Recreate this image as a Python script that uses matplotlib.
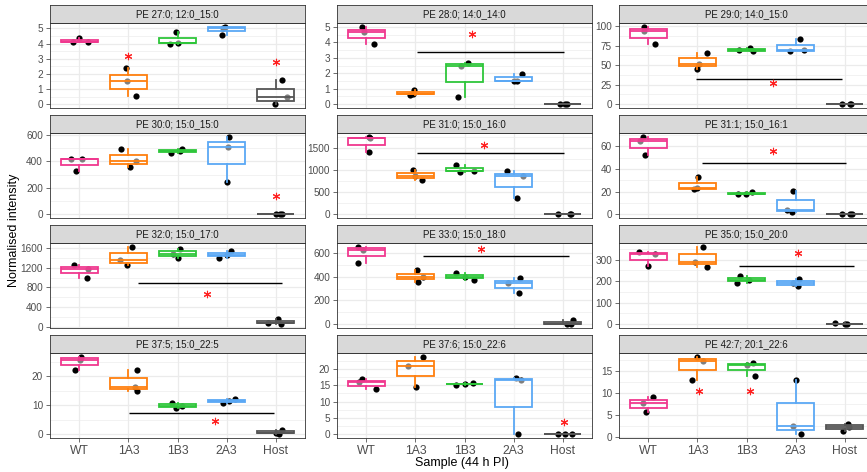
import numpy as np
import matplotlib.pyplot as plt

plt.rcParams['font.family'] = ['Liberation Sans', 'DejaVu Sans']

# Data
groups = ['WT', '1A3', '1B3', '2A3', 'Host']
colours = ['#F0388F', '#FF7F0E', '#2EC63A', '#5AA8F5', '#555555']

titles = ['PE 27:0; 12:0_15:0', 'PE 28:0; 14:0_14:0', 'PE 29:0; 14:0_15:0',
          'PE 30:0; 15:0_15:0', 'PE 31:0; 15:0_16:0', 'PE 31:1; 15:0_16:1',
          'PE 32:0; 15:0_17:0', 'PE 33:0; 15:0_18:0', 'PE 35:0; 15:0_20:0',
          'PE 37:5; 15:0_22:5', 'PE 37:6; 15:0_22:6', 'PE 42:7; 20:1_22:6']

# three replicates per sample, order WT, 1A3, 1B3, 2A3, Host
pe27_0 = [[4.1, 4.35, 4.1], [2.4, 1.5, 0.53], [3.98, 4.04, 4.74], [4.55, 5.05, 5.1], [0.0, 0.47, 1.57]]
pe28_0 = [[5.0, 4.64, 3.87], [0.62, 0.66, 0.92], [0.45, 2.45, 2.68], [1.49, 1.5, 1.96], [0, 0, 0]]
pe29_0 = [[99, 93.5, 76.8], [45.6, 52, 65.4], [69.2, 71.7, 67.5], [67.5, 69.6, 83], [0, 0, 0]]
pe30_0 = [[416, 330, 421], [496, 358, 401], [466, 480, 497], [247, 511, 587], [0, 2, 0]]
pe31_0 = [[1412, 1720, 1750], [1010, 773, 870], [1114, 958, 988], [980, 357, 855], [0, 0, 0]]
pe31_1 = [[68.4, 64.3, 52], [32.7, 22.2, 22.8], [18.1, 17.5, 19.6], [3.5, 1.5, 20.8], [0, 0, 0]]
pe32_0 = [[1248, 1002, 1182], [1248, 1368, 1627], [1408, 1490, 1580], [1408, 1462, 1540], [86, 153, 53]]
pe33_0 = [[651, 627, 516], [459, 359, 394], [427, 400, 373], [346, 389, 259], [0, 35, 5]]
pe35_0 = [[336, 326, 270], [291, 359, 265], [191, 223, 207], [175, 210, 190], [3, 0, 0]]
pe37_5 = [[22.3, 25.6, 26.7], [22.3, 15, 16.2], [10.7, 9.0, 9.8], [10.9, 12.3, 11.5], [0, 1.6, 0.5]]
pe37_6 = [[16.8, 13.7, 15.9], [21, 14.4, 23.7], [15.2, 15.6, 15.4], [17.3, 16.5, 0], [0, 0.1, 0]]
pe42_7 = [[9.2, 5.6, 7.8], [18.3, 13, 17.4], [16.8, 14, 16.5], [13.1, 2.4, 0.6], [1.4, 3.0, 2.2]]
values = [pe27_0, pe28_0, pe29_0, pe30_0, pe31_0, pe31_1,
          pe32_0, pe33_0, pe35_0, pe37_5, pe37_6, pe42_7]

# significance bar (x from, x to, y) and asterisks (x, y)
sig_lines = [None, (2.04, 5.03, 3.4), (1.97, 4.95, 32.5),
             None, (2.04, 5.03, 1390), (2.09, 5.03, 45.3),
             (2.19, 5.14, 883), (2.16, 5.14, 570), (2.85, 5.2, 270),
             (2.01, 4.96, 7.2), None, None]
stars = [[(2, 3.2), (5, 2.8)], [(3.16, 4.57)], [(3.54, 26.6)],
         [(5.0, 136)], [(3.4, 1560)], [(3.55, 55.8)],
         [(3.6, 657)], [(3.34, 635)], [(4.05, 330)],
         [(3.77, 4.6)], [(5.02, 3.8)], [(2.04, 10.5), (3.07, 10.5)]]

yticks = [[0, 1, 2, 3, 4, 5], [0, 1, 2, 3, 4, 5], [0, 25, 50, 75, 100],
          [0, 200, 400, 600], [0, 500, 1000, 1500], [0, 20, 40, 60],
          [0, 400, 800, 1200, 1600], [0, 200, 400, 600], [0, 100, 200, 300],
          [0, 10, 20], [0, 5, 10, 15, 20], [0, 5, 10, 15]]

# horizontal jitter of the points
jitter = [
    [[-0.14, 0.0, 0.17], [-0.05, -0.03, 0.15], [-0.15, 0.0, -0.03], [-0.1, -0.07, -0.03], [-0.01, 0.24, 0.13]],
    [[-0.1, -0.04, 0.15], [-0.12, -0.06, -0.02], [-0.14, -0.08, 0.08], [0.01, 0.08, 0.17], [-0.06, 0.04, 0.08]],
    [[-0.09, -0.1, 0.14], [0.0, 0.04, 0.2], [-0.16, 0.07, 0.14], [-0.12, 0.17, 0.1], [-0.05, 0.14, 0.12]],
    [[-0.18, -0.07, 0.06], [-0.16, 0.03, 0.16], [-0.14, 0.05, 0.09], [0.0, 0.02, 0.05], [0.01, 0.08, 0.14]],
    [[0.05, 0.07, 0.05], [-0.05, 0.14, 0.0], [-0.18, -0.1, 0.19], [-0.14, 0.08, 0.19], [-0.1, 0.15, 0.17]],
    [[-0.12, -0.17, -0.07], [0.02, -0.08, 0.0], [-0.17, -0.02, 0.12], [-0.18, -0.08, -0.05], [-0.05, 0.12, 0.15]],
    [[-0.11, 0.15, 0.17], [-0.03, -0.17, 0.08], [0.0, -0.1, 0.05], [-0.16, 0.0, 0.1], [-0.15, 0.05, 0.11]],
    [[-0.17, -0.07, -0.17], [0.03, 0.05, 0.16], [-0.18, 0.0, 0.19], [-0.12, 0.14, 0.12], [0.18, 0.21, 0.1]],
    [[-0.19, 0.13, 0.0], [-0.05, 0.12, 0.2], [-0.2, -0.14, 0.05], [0.05, 0.08, -0.05], [-0.2, 0.0, 0.05]],
    [[-0.1, 0.02, 0.03], [0.18, 0.18, 0.14], [-0.12, -0.03, 0.1], [-0.08, 0.18, 0.05], [0.07, 0.14, 0.0]],
    [[-0.1, 0.19, -0.15], [-0.16, 0.02, 0.16], [-0.18, 0.17, 0.0], [0.05, 0.15, 0.1], [-0.1, 0.2, 0.05]],
    [[0.09, -0.05, -0.12], [0.0, -0.11, 0.11], [0.14, 0.18, 0.0], [0.0, -0.05, 0.12], [-0.03, 0.07, 0.1]],
]

# Layout in pixels
W, H = 867, 472
col_left = [50, 337, 619]
row_top = [23, 133, 243, 353]
pw, ph, sh = 255, 85, 18

fig = plt.figure(figsize=(W / 100, H / 100), dpi=100)

for i in range(12):
    r, c = divmod(i, 3)
    l, t = col_left[c], row_top[r]
    ax = fig.add_axes([l / W, 1 - (t + ph) / H, pw / W, ph / H])
    pos = np.arange(1, 6)

    # points first so the half transparent box greys them out
    for g in range(5):
        xs = [pos[g] + j for j in jitter[i][g]]
        ax.scatter(xs, values[i][g], s=20, color='black', zorder=2, linewidths=0)
        bp = ax.boxplot([values[i][g]], positions=[pos[g]], widths=0.75,
                        patch_artist=True, showcaps=False, showfliers=False,
                        manage_ticks=False)
        col = colours[g]
        for b in bp['boxes']:
            b.set_facecolor((1, 1, 1, 0.5))
            b.set_edgecolor(col)
            b.set_linewidth(1.3)
            b.set_zorder(3)
        for m in bp['medians']:
            m.set_color(col)
            m.set_linewidth(1.3)
            m.set_zorder(4)
        for w in bp['whiskers']:
            w.set_color(col)
            w.set_linewidth(1.3)
            w.set_zorder(3)

    all_y = [v for grp in values[i] for v in grp] + [s[1] for s in stars[i]]
    if sig_lines[i] is not None:
        x0, x1, yl = sig_lines[i]
        ax.hlines(yl, x0, x1, color='black', lw=1.0, zorder=5)
        all_y.append(yl)
    for sx, sy in stars[i]:
        ax.scatter(sx, sy, marker=(6, 2, 0), s=22, color='#FF2020', linewidths=0.8, zorder=6)

    lo, hi = min(all_y), max(all_y)
    pad = (hi - lo) * 0.05
    ax.set_ylim(lo - pad, hi + pad)
    ax.set_xlim(0.4, 5.6)

    yt = yticks[i]
    ax.set_yticks(yt)
    ax.set_yticklabels([str(v) for v in yt])
    step = yt[1] - yt[0]
    minor = [v + step / 2 for v in [yt[0] - step] + yt]
    ax.set_yticks([m for m in minor if lo - pad <= m <= hi + pad], minor=True)
    ax.set_xticks(pos)
    ax.grid(True, which='major', color='#EBEBEB', lw=0.9, zorder=0)
    ax.grid(True, which='minor', axis='y', color='#EBEBEB', lw=0.45, zorder=0)
    ax.set_axisbelow(True)
    ax.tick_params(axis='y', which='minor', length=0)
    ax.tick_params(axis='y', which='major', labelsize=7.2, labelcolor='#4D4D4D',
                   length=2.75, width=0.5, color='#333333', pad=2.2)
    if r == 3:
        ax.set_xticklabels(groups)
        ax.tick_params(axis='x', labelsize=8.7, labelcolor='#4D4D4D',
                       length=2.75, width=0.5, color='#333333', pad=2.0)
    else:
        ax.tick_params(axis='x', bottom=False, labelbottom=False)
    for sp in ax.spines.values():
        sp.set_color('#333333')
        sp.set_linewidth(0.6)

    # facet strip
    sa = fig.add_axes([l / W, 1 - t / H, pw / W, sh / H])
    sa.set_facecolor('#D9D9D9')
    sa.set_xticks([])
    sa.set_yticks([])
    for sp in sa.spines.values():
        sp.set_color('#333333')
        sp.set_linewidth(0.6)
    sa.text(0.5, 0.5, titles[i], ha='center', va='center', fontsize=7,
            color='#1A1A1A', transform=sa.transAxes)

fig.text(14 / W, 1 - 230 / H, 'Normalised intensity', rotation=90,
         ha='center', va='center', fontsize=9, color='black')
fig.text(462 / W, 1 - 463 / H, 'Sample (44 h PI)', ha='center', va='center',
         fontsize=9, color='black')

fig.savefig('out.png', dpi=100)
